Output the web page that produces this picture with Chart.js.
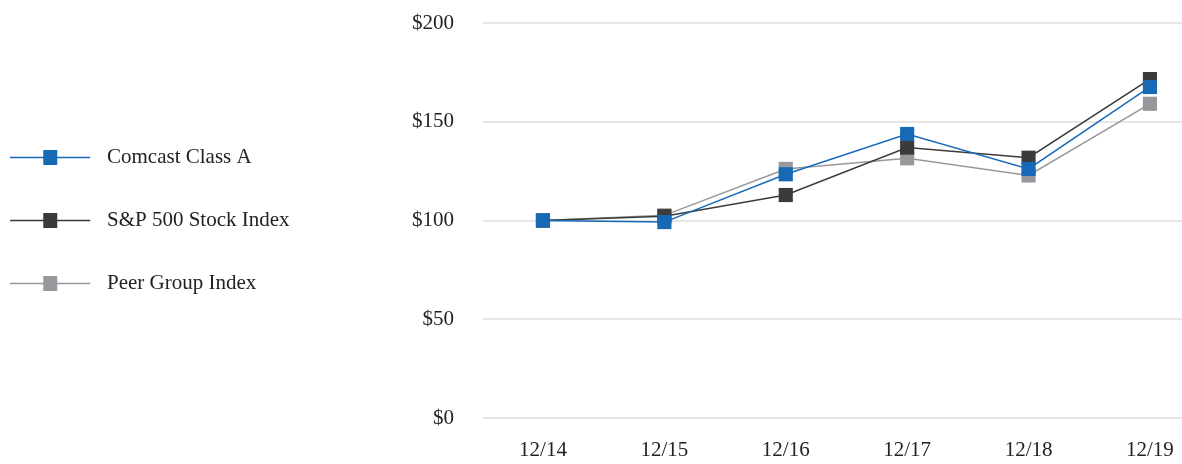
<!DOCTYPE html>
<html>
<head>
<meta charset="utf-8">
<script src="https://cdn.jsdelivr.net/npm/chart.js@4"></script>
<style>
  body { margin: 0; background: #fff; }
  #wrap { width: 1182px; height: 464px; position: relative; }
</style>
</head>
<body>
<div id="wrap"><canvas id="perfChart"></canvas></div>
<script>
// cumulative total return, $100 invested 12/14
const periods = ["12/14", "12/15", "12/16", "12/17", "12/18", "12/19"];
const comcast = [100, 99.2, 123.4, 143.8, 126.1, 167.6];
const sp500 = [100, 102.2, 112.9, 136.9, 131.8, 171.6];
const peerGroup = [100, 102.6, 126.1, 131.5, 122.8, 159.1];
const yTicks = [0, 50, 100, 150, 200];

const seriesNames = ["Comcast Class A", "S&P 500 Stock Index", "Peer Group Index"];
const seriesColors = ["#1769b6", "#3b3b3b", "#98989c"];
const seriesData = [comcast, sp500, peerGroup];

const FONT = { family: "'Liberation Serif', 'Times New Roman', serif", size: 21 };

// legend icon: short line with a square marker on it
function legendIcon(color) {
    const c = document.createElement("canvas");
    c.width = 118;
    c.height = 15;
    const ctx = c.getContext("2d");
    ctx.strokeStyle = color;
    ctx.lineWidth = 1.5;
    ctx.beginPath();
    ctx.moveTo(0, 7.5);
    ctx.lineTo(80, 7.5);
    ctx.stroke();
    ctx.fillStyle = color;
    ctx.fillRect(33, 0, 14, 15);
    return c;
}

const datasets = seriesNames.map((name, i) => ({
    label: name,
    data: seriesData[i].map((v, j) => ({ x: j, y: v })),
    borderColor: seriesColors[i],
    backgroundColor: seriesColors[i],
    borderWidth: 1.5,
    pointStyle: "rect",
    pointRadius: 10,
    pointBorderWidth: 0,
    pointBackgroundColor: seriesColors[i],
    tension: 0
}));

new Chart(document.getElementById("perfChart"), {
    type: "line",
    data: { datasets },
    options: {
        responsive: true,
        maintainAspectRatio: false,
        animation: false,
        layout: { autoPadding: false, padding: { top: 23, left: 0, right: 0, bottom: 0 } },
        plugins: {
            tooltip: { enabled: false },
            legend: {
                position: "left",
                fullSize: false,
                labels: {
                    usePointStyle: true,
                    pointStyleWidth: 54.5,
                    padding: 42,
                    color: "#222",
                    font: FONT,
                    generateLabels: (chart) => chart.data.datasets.map((ds, i) => ({
                        text: ds.label,
                        pointStyle: legendIcon(seriesColors[i]),
                        fillStyle: seriesColors[i],
                        strokeStyle: seriesColors[i],
                        lineWidth: 0,
                        hidden: false,
                        fontColor: "#222",
                        datasetIndex: i
                    }))
                }
            }
        },
        scales: {
            x: {
                type: "linear",
                min: -0.494,
                max: 5.264,
                grid: { display: false, drawTicks: false },
                border: { display: false },
                afterBuildTicks: (s) => { s.ticks = periods.map((p, i) => ({ value: i })); },
                afterFit: (s) => {
                    s.height = 46;
                    s.paddingLeft = 0;
                    s.paddingRight = 0;
                },
                ticks: {
                    autoSkip: false,
                    maxRotation: 0,
                    padding: 20,
                    color: "#222",
                    font: FONT,
                    callback: (v) => periods[v]
                }
            },
            y: {
                min: 0,
                max: 200,
                grid: { color: "#e6e6e6", lineWidth: 2, drawTicks: false },
                border: { display: false },
                afterBuildTicks: (s) => { s.ticks = yTicks.map(v => ({ value: v })); },
                afterFit: (s) => {
                    const lg = s.chart.legend;
                    s.width = 483 - (lg ? lg.width : 0);
                    s.paddingTop = 0;
                    s.paddingBottom = 0;
                },
                ticks: {
                    padding: 29,
                    color: "#222",
                    font: FONT,
                    callback: (v) => "$" + v
                }
            }
        }
    }
});
</script>
</body>
</html>
